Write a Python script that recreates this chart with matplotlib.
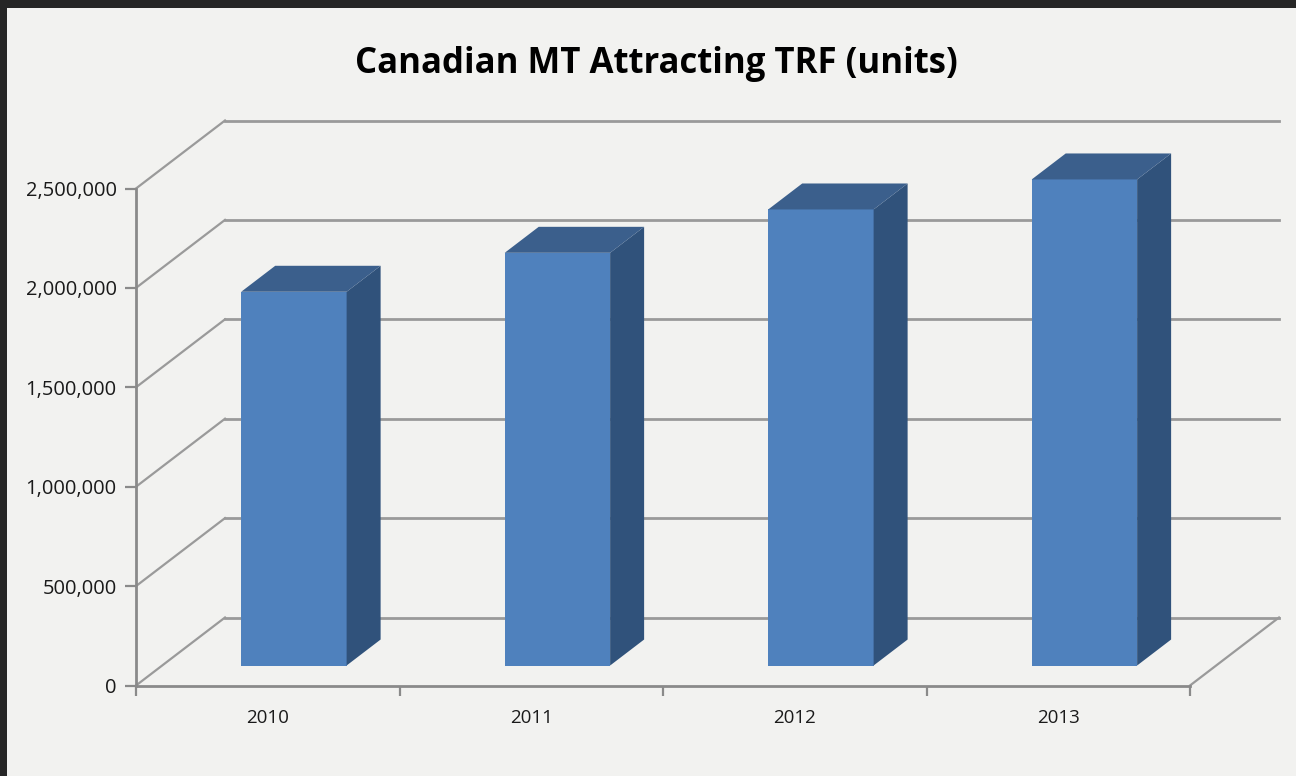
import matplotlib
matplotlib.use("Agg")
import numpy as np
from matplotlib import pyplot as plt
from matplotlib.patches import Polygon, Rectangle

years = ["2010", "2011", "2012", "2013"]
units = [1880000, 2076000, 2294000, 2445000]
y_ticks = [0, 500000, 1000000, 1500000, 2000000, 2500000]

title = "Canadian MT Attracting TRF (units)"

plt.rcParams['font.family'] = ['Open Sans', 'DejaVu Sans']

W, H = 1296, 776
fig = plt.figure(figsize=(W / 100, H / 100), dpi=100)
fig.patch.set_facecolor("#262626")
# light chart area inside the dark frame
fig.add_artist(Rectangle((7 / W, 0), 1, 1 - 8 / H, transform=fig.transFigure,
                         facecolor="#f2f2f0", edgecolor="none", zorder=0))

# front plane of the 3d box
ax = fig.add_axes([136 / W, 1 - 685.5 / H, (1190 - 136) / W, (685.5 - 188.5) / H])
ax.set_facecolor("none")
ax.set_xlim(0, len(years))
ax.set_ylim(0, 2500000)

# oblique depth offset (data units)
DX = 89 / 263.5
DY = 68 / 198.8 * 1e6
d0, d1 = 0.294, 0.676
grid_col = "#9a9a9a"

# back wall gridlines and side wall diagonals
for v in y_ticks:
    ax.plot([DX, len(years) + DX], [v + DY, v + DY], color=grid_col, lw=2, clip_on=False, zorder=1)
    ax.plot([0, DX], [v, v + DY], color=grid_col, lw=1.6, clip_on=False, zorder=1)
# floor right edge
ax.plot([len(years), len(years) + DX], [0, DY], color=grid_col, lw=1.6, clip_on=False, zorder=1)

# bars
front_col, side_col, top_col = "#4f81bd", "#30527b", "#3b5f8c"
for i, v in enumerate(units):
    x0, x1 = i + 0.3, i + 0.7
    front = Rectangle((x0 + d0 * DX, d0 * DY), x1 - x0, v, facecolor=front_col,
                      edgecolor="none", clip_on=False, zorder=3)
    side = Polygon([(x1 + d0 * DX, d0 * DY), (x1 + d1 * DX, d1 * DY),
                    (x1 + d1 * DX, v + d1 * DY), (x1 + d0 * DX, v + d0 * DY)],
                   closed=True, facecolor=side_col, edgecolor="none", clip_on=False, zorder=3)
    top = Polygon([(x0 + d0 * DX, v + d0 * DY), (x1 + d0 * DX, v + d0 * DY),
                   (x1 + d1 * DX, v + d1 * DY), (x0 + d1 * DX, v + d1 * DY)],
                  closed=True, facecolor=top_col, edgecolor="none", clip_on=False, zorder=3)
    for p in (front, side, top):
        ax.add_patch(p)

# axes lines and ticks
for s in ["top", "right"]:
    ax.spines[s].set_visible(False)
for s in ["left", "bottom"]:
    ax.spines[s].set_color("#8a8a8a")
    ax.spines[s].set_linewidth(2)
    ax.spines[s].set_zorder(2)

ax.set_yticks(y_ticks)
ax.set_yticklabels(["{:,}".format(v) for v in y_ticks])
ax.tick_params(axis="y", length=8, width=1.6, color="#8a8a8a", labelsize=14.5,
               labelcolor="#1a1a1a", pad=6)

ax.set_xticks(np.arange(len(years) + 1))
ax.set_xticklabels([])
ax.tick_params(axis="x", which="major", length=7, width=1.6, color="#8a8a8a")
ax.set_xticks(np.arange(len(years)) + 0.5, minor=True)
ax.set_xticklabels(years, minor=True)
ax.tick_params(axis="x", which="minor", length=0, labelsize=13.5, labelcolor="#1a1a1a", pad=17)

fig.text(656 / W, 1 - 73.3 / H, title, ha="center", va="baseline",
         fontsize=25, fontweight="bold", color="#000000")

fig.savefig("out.png", dpi=100, facecolor=fig.get_facecolor())
